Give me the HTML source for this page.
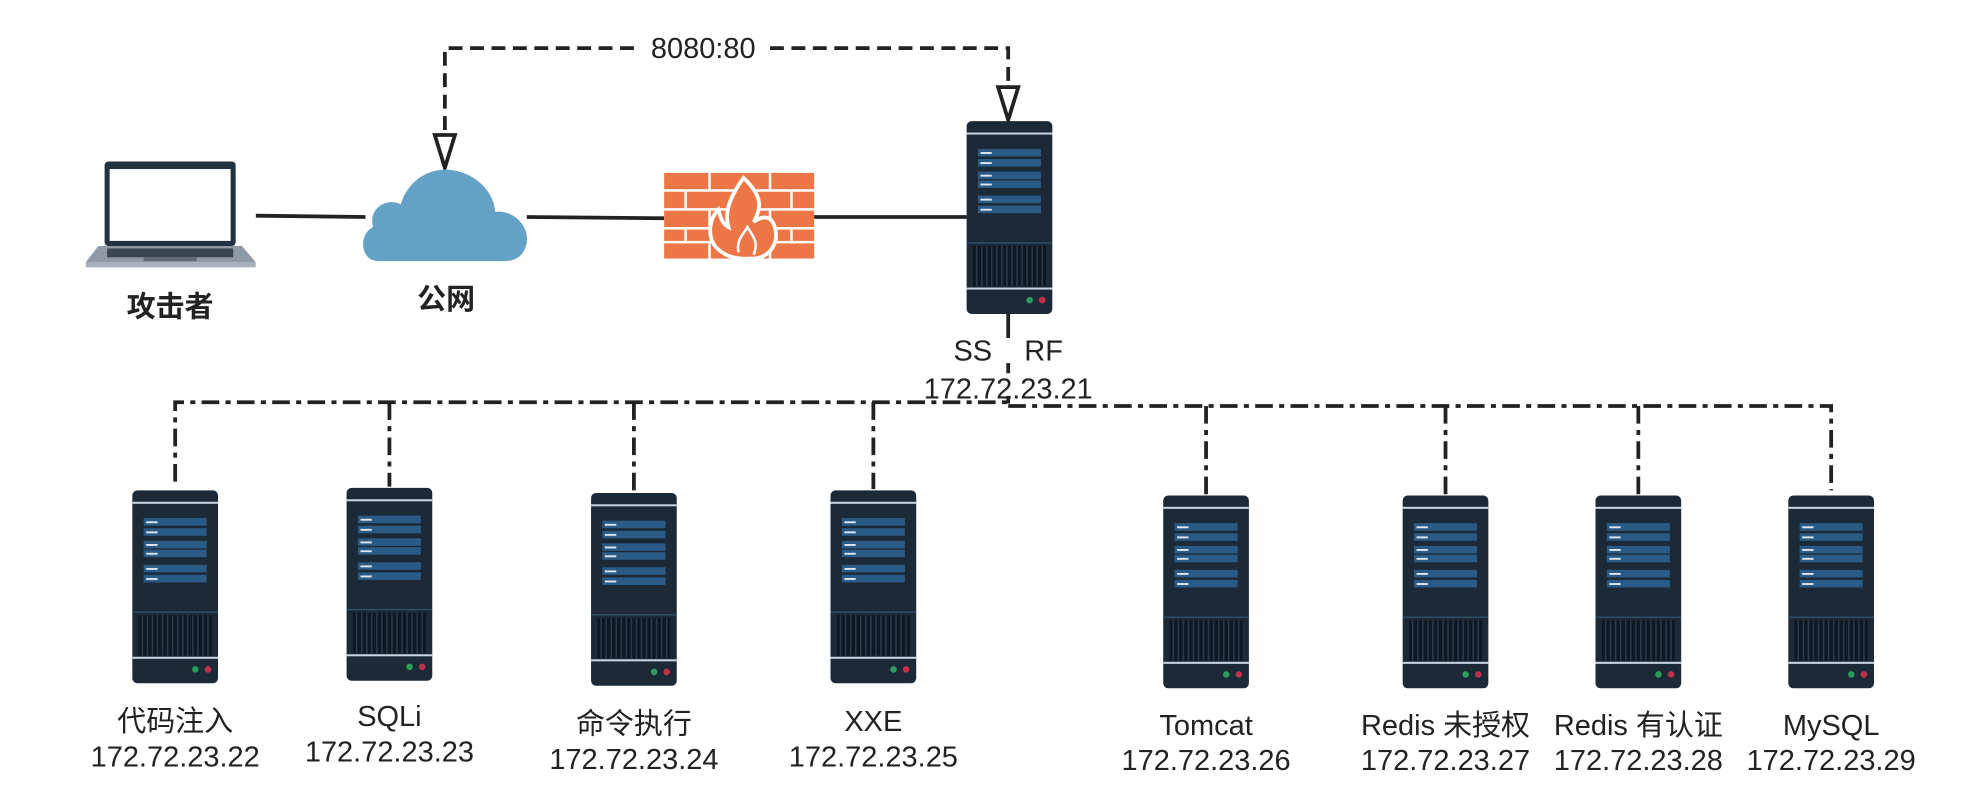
<!DOCTYPE html>
<html><head><meta charset="utf-8"><style>
html,body{margin:0;padding:0;background:#fff;width:1966px;height:812px;overflow:hidden}
svg{display:block}
text{font-family:"Liberation Sans","Noto Sans CJK SC",sans-serif;fill:#222;font-size:23px;text-anchor:middle}
</style></head><body>
<svg width="1966" height="812" viewBox="0 0 1560 644" xmlns="http://www.w3.org/2000/svg">
<defs>
<g id="srv">
<rect x="0" y="0" width="68" height="153" rx="4" fill="#1c2a37"/>
<rect x="0" y="9" width="68" height="1.6" fill="#c9d6e2"/>
<g fill="#2a5a86">
<rect x="9" y="22" width="50" height="6"/><rect x="9" y="30" width="50" height="6"/>
<rect x="9" y="40" width="50" height="6"/><rect x="9" y="47" width="50" height="6"/>
<rect x="9" y="59" width="50" height="6"/><rect x="9" y="67" width="50" height="6"/>
</g>
<g fill="#dfe8f0">
<rect x="11" y="24.5" width="9" height="1.5"/><rect x="11" y="32.5" width="9" height="1.5"/>
<rect x="11" y="42.5" width="9" height="1.5"/><rect x="11" y="49.5" width="9" height="1.5"/>
<rect x="11" y="61.5" width="9" height="1.5"/><rect x="11" y="69.5" width="9" height="1.5"/>
</g>
<rect x="0" y="96" width="68" height="1.2" fill="#2f4d68"/>
<rect x="5" y="99" width="58" height="32" fill="#0e1823"/>
<g stroke="#2a3b4c" stroke-width="1.2">
<path d="M8 99v32M12 99v32M16 99v32M20 99v32M24 99v32M28 99v32M32 99v32M36 99v32M40 99v32M44 99v32M48 99v32M52 99v32M56 99v32M60 99v32"/>
</g>
<rect x="0" y="132" width="68" height="1.6" fill="#c9d6e2"/>
<circle cx="50" cy="142" r="2.6" fill="#2a9d5a"/>
<circle cx="60" cy="142" r="2.6" fill="#c0304a"/>
</g>
</defs>

<path d="M353 120 V38 H800 V82" fill="none" stroke="#222" stroke-width="3" stroke-dasharray="11,6"/>
<path d="M345 107 L361 107 L353 133 Z" fill="#fff" stroke="#222" stroke-width="3"/>
<path d="M792 69 L808 69 L800 95 Z" fill="#fff" stroke="#222" stroke-width="3"/>
<rect x="506" y="26" width="104" height="24" fill="#fff"/>
<text x="558" y="46">8080:80</text>

<rect x="83" y="128" width="104" height="67" rx="3" fill="#233241"/>
<rect x="87" y="134" width="96" height="57" fill="#fff"/>
<path d="M78 195 H192 L203 208 H68 Z" fill="#8f9aa6"/>
<rect x="85" y="197" width="100" height="7" fill="#3a4552"/>
<rect x="114" y="204" width="42" height="3" fill="#5f6a76"/>
<rect x="68" y="208" width="135" height="4" rx="1" fill="#a7b1bb"/>

<path d="M203 171 L290 172" stroke="#222" stroke-width="3"/>
<path d="M418 172 L527 173" stroke="#222" stroke-width="3"/>
<path d="M646 172 L767 172" stroke="#222" stroke-width="3"/>

<path d="M300 207 C286 207 284 186 296 180 C292 166 306 156 318 162 C324 142 342 132 360 135 C378 138 392 152 393 168 C406 166 420 178 418 192 C416 204 408 207 400 207 Z" fill="#64a2c8"/>

<g fill="#ec7646">
<rect x="527" y="137" width="35" height="13"/><rect x="564" y="137" width="46" height="13"/><rect x="612" y="137" width="34" height="13"/>
<rect x="527" y="152" width="16" height="13"/><rect x="545" y="152" width="46" height="13"/><rect x="593" y="152" width="34" height="13"/><rect x="629" y="152" width="17" height="13"/>
<rect x="527" y="167" width="35" height="13"/><rect x="564" y="167" width="46" height="13"/><rect x="612" y="167" width="34" height="13"/>
<rect x="527" y="182" width="16" height="9"/><rect x="545" y="182" width="46" height="9"/><rect x="593" y="182" width="34" height="9"/><rect x="629" y="182" width="17" height="9"/>
<rect x="527" y="193" width="35" height="12"/><rect x="564" y="193" width="46" height="12"/><rect x="612" y="193" width="34" height="12"/>
</g>
<path d="M590 141 C606 156 604 166 598 176 C606 170 612 172 614 178 C620 192 610 206 596 205 C582 206 574 202 568 196 C560 186 564 172 570 166 C572 174 574 178 578 180 C574 166 582 152 590 141 Z" fill="#ec7646" stroke="#fff" stroke-width="3"/>
<path d="M586 200 C584 190 590 186 593 180 C598 188 602 192 598 202" fill="none" stroke="#fff" stroke-width="2"/>

<use href="#srv" x="767" y="96"/>
<path d="M800 249 V268 M800 288 V296 M800 314 V320" stroke="#222" stroke-width="3"/>

<text x="135" y="251" font-weight="bold">攻击者</text>
<text x="354" y="245" font-weight="bold">公网</text>
<text x="800" y="286">SS&#160;&#160;&#160;&#160;RF</text>
<text x="800" y="316">172.72.23.21</text>

<g fill="none" stroke="#222" stroke-width="3" stroke-dasharray="14,5,4,5">
<path d="M139 382 V319 H800"/>
<path d="M800 322 H1453 V389"/>
<path d="M309 319 V386"/>
<path d="M503 319 V390"/>
<path d="M693 319 V388"/>
<path d="M957 322 V392"/>
<path d="M1147 322 V392"/>
<path d="M1300 322 V392"/>
</g>

<use href="#srv" x="105" y="389"/>
<use href="#srv" x="275" y="387"/>
<use href="#srv" x="469" y="391"/>
<use href="#srv" x="659" y="389"/>
<use href="#srv" x="923" y="393"/>
<use href="#srv" x="1113" y="393"/>
<use href="#srv" x="1266" y="393"/>
<use href="#srv" x="1419" y="393"/>

<text x="139" y="580">代码注入</text><text x="139" y="608">172.72.23.22</text>
<text x="309" y="576">SQLi</text><text x="309" y="604">172.72.23.23</text>
<text x="503" y="582">命令执行</text><text x="503" y="610">172.72.23.24</text>
<text x="693" y="580">XXE</text><text x="693" y="608">172.72.23.25</text>
<text x="957" y="583">Tomcat</text><text x="957" y="611">172.72.23.26</text>
<text x="1147" y="583">Redis 未授权</text><text x="1147" y="611">172.72.23.27</text>
<text x="1300" y="583">Redis 有认证</text><text x="1300" y="611">172.72.23.28</text>
<text x="1453" y="583">MySQL</text><text x="1453" y="611">172.72.23.29</text>
</svg>
</body></html>
